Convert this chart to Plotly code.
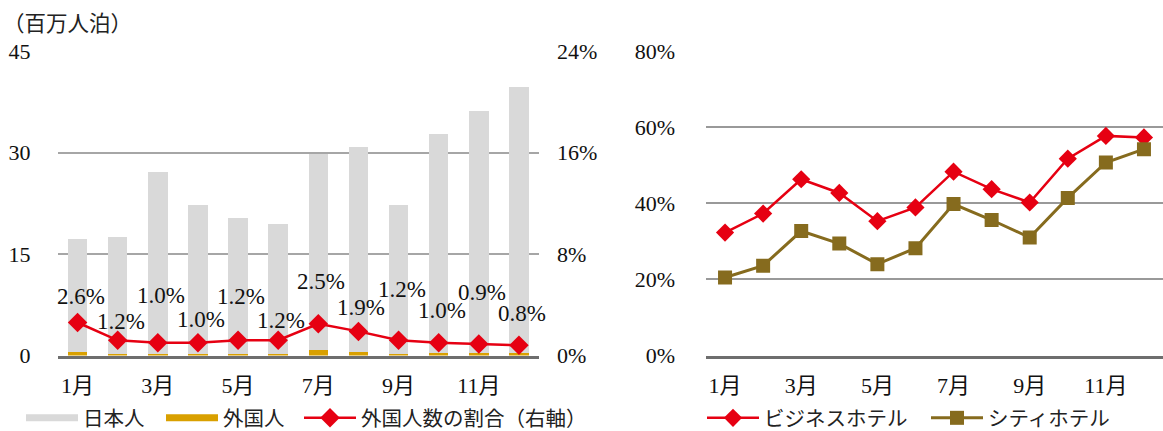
import plotly.graph_objects as go

# Monthly data
months = ["1月", "2月", "3月", "4月", "5月", "6月", "7月", "8月", "9月", "10月", "11月", "12月"]
odd_months = ["1月", "3月", "5月", "7月", "9月", "11月"]

# Guest nights (million)
japanese = [16.7, 17.25, 26.8, 22.0, 20.1, 19.2, 29.05, 30.2, 21.9, 32.4, 35.8, 39.4]
foreign = [0.45, 0.21, 0.27, 0.22, 0.24, 0.23, 0.75, 0.59, 0.27, 0.33, 0.33, 0.32]
# Share of foreign guests (%)
foreign_share = [2.6, 1.2, 1.0, 1.0, 1.2, 1.2, 2.5, 1.9, 1.2, 1.0, 0.9, 0.8]

# Occupancy rate (%)
business_hotel = [32.3, 37.3, 46.3, 42.7, 35.3, 38.9, 48.3, 43.7, 40.2, 51.7, 57.7, 57.3]
city_hotel = [20.5, 23.6, 32.7, 29.4, 24.0, 28.2, 39.8, 35.6, 31.0, 41.4, 50.7, 54.2]

left_ticks = [0, 15, 30, 45]
share_ticks = [0, 8, 16, 24]
share_text = ["0%", "8%", "16%", "24%"]
occ_ticks = [0, 20, 40, 60, 80]
occ_text = ["0%", "20%", "40%", "60%", "80%"]

# vertical offsets (px) of the share labels above their markers
label_lift = [26, 19, 47, 23, 44, 20, 42, 24, 51, 32, 52, 32]

W, H = 1163, 431
FONT = "'Liberation Serif', 'Times New Roman', 'Noto Sans CJK JP', serif"
JP = "'Noto Sans CJK JP', sans-serif"
GRAY = "#d9d9d9"
GOLD = "#d9a000"
RED = "#e60012"
BROWN = "#866b1e"
GRID = "#a6a6a6"
GRID_R = "#999999"
BASE = "#6e6e6e"

fig = go.Figure()

# Left panel: stacked bars + share line
fig.add_trace(go.Bar(x=months, y=foreign, marker_color=GOLD, marker_line_width=0,
                     showlegend=False, xaxis="x", yaxis="y"))
fig.add_trace(go.Bar(x=months, y=japanese, marker_color=GRAY, marker_line_width=0,
                     showlegend=False, xaxis="x", yaxis="y"))
fig.add_trace(go.Scatter(x=months, y=foreign_share, mode="lines+markers",
                         line=dict(color=RED, width=2.5),
                         marker=dict(symbol="diamond", size=15, color=RED),
                         showlegend=False, xaxis="x", yaxis="y2"))

# legend entries for the left panel
fig.add_trace(go.Scatter(x=[None], y=[None], mode="lines", name="日本人",
                         line=dict(color=GRAY, width=7), legend="legend",
                         xaxis="x", yaxis="y"))
fig.add_trace(go.Scatter(x=[None], y=[None], mode="lines", name="外国人",
                         line=dict(color=GOLD, width=7), legend="legend3",
                         xaxis="x", yaxis="y"))
fig.add_trace(go.Scatter(x=[None], y=[None], mode="lines+markers", name="外国人数の割合（右軸）",
                         line=dict(color=RED, width=2.5),
                         marker=dict(symbol="diamond", size=15, color=RED),
                         legend="legend4", xaxis="x", yaxis="y2"))

# Right panel: occupancy lines
fig.add_trace(go.Scatter(x=months, y=business_hotel, mode="lines+markers", name="ビジネスホテル",
                         line=dict(color=RED, width=2.5),
                         marker=dict(symbol="diamond", size=14, color=RED),
                         legend="legend2", xaxis="x2", yaxis="y3"))
fig.add_trace(go.Scatter(x=months, y=city_hotel, mode="lines+markers", name="シティホテル",
                         line=dict(color=BROWN, width=3),
                         marker=dict(symbol="square", size=14, color=BROWN),
                         legend="legend5", xaxis="x2", yaxis="y3"))

# share value labels
annotations = []
for m, v, lift in zip(months, foreign_share, label_lift):
    annotations.append(dict(x=m, y=v, xref="x", yref="y2", text=f"{v:.1f}%",
                            showarrow=False, yshift=lift, xshift=3,
                            font=dict(family=FONT, size=23, color="#111")))
annotations.append(dict(x=1 / W, y=1 - 22 / H, xref="paper", yref="paper",
                        text="（百万人泊）", showarrow=False, xanchor="left", yanchor="middle",
                        font=dict(family=JP, size=21.5, color="#222")))

y_dom = [75.5 / H, 380 / H]
tickfont = dict(family=FONT, size=22, color="#111")
cat_range = [-0.5, len(months) - 0.5]


def legend_at(px):
    return dict(x=px / W, y=13 / H, xanchor="left", yanchor="middle", orientation="h",
                font=dict(family=JP, size=20.5, color="#222"),
                bgcolor="rgba(0,0,0,0)", itemwidth=52)


fig.update_layout(
    width=W, height=H,
    margin=dict(l=0, r=0, t=0, b=0, autoexpand=False),
    paper_bgcolor="white", plot_bgcolor="white",
    barmode="stack", bargap=0.515,
    font=dict(family=FONT, size=20, color="#111"),
    xaxis=dict(domain=[57.5 / W, 539 / W], type="category", categoryarray=months,
               range=cat_range, tickvals=odd_months, ticktext=odd_months, tickfont=tickfont,
               showgrid=False, showline=True, linecolor=BASE, linewidth=3,
               ticks="", ticklabelstandoff=8, anchor="y", automargin=False),
    yaxis=dict(domain=y_dom, range=[0, 45], tickvals=left_ticks, tickfont=tickfont,
               showgrid=True, gridcolor=GRID, gridwidth=1.5, zeroline=False,
               ticks="", ticklabelstandoff=26, anchor="x", automargin=False),
    yaxis2=dict(domain=y_dom, range=[0, 24], tickvals=share_ticks, ticktext=share_text,
                tickfont=tickfont, overlaying="y", side="right", anchor="x",
                showgrid=False, zeroline=False, ticks="", ticklabelstandoff=17,
                automargin=False),
    xaxis2=dict(domain=[706 / W, 1.0], type="category", categoryarray=months,
                range=cat_range, tickvals=odd_months, ticktext=odd_months, tickfont=tickfont,
                showgrid=False, showline=True, linecolor=BASE, linewidth=3,
                ticks="", ticklabelstandoff=8, anchor="y3", automargin=False),
    yaxis3=dict(domain=y_dom, range=[0, 80], tickvals=occ_ticks, ticktext=occ_text,
                tickfont=tickfont, showgrid=True, gridcolor=GRID_R, gridwidth=1.5,
                zeroline=False, ticks="", ticklabelstandoff=30, anchor="x2",
                automargin=False),
    legend=legend_at(21),
    legend3=legend_at(161),
    legend4=legend_at(299),
    legend2=legend_at(702),
    legend5=legend_at(926),
    annotations=annotations,
)

fig.write_html("out.html")
